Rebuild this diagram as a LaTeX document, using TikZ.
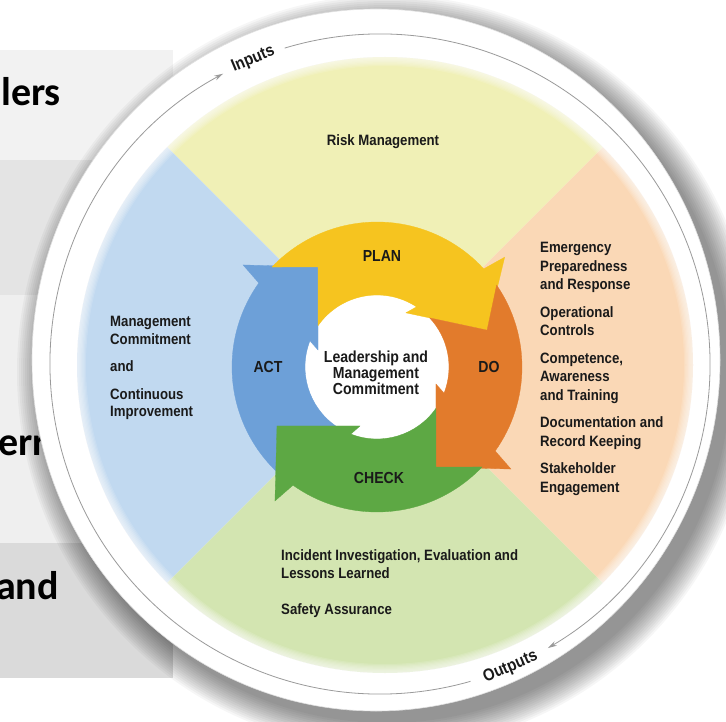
\documentclass[tikz,border=0pt]{standalone}
\usepackage{fontspec}
\setmainfont{Liberation Sans}
\newfontfamily\cf[FakeStretch=0.88]{Liberation Sans}
\newfontfamily\calib{Carlito}
\usetikzlibrary{arrows.meta}
\definecolor{boxA}{HTML}{F2F2F2}
\definecolor{boxB}{HTML}{E4E4E4}
\definecolor{boxC}{HTML}{EFEFEF}
\definecolor{boxD}{HTML}{DADADA}
\definecolor{qyellow}{HTML}{F0F0B6}
\definecolor{qpeach}{HTML}{FAD8B6}
\definecolor{qgreen}{HTML}{D3E5B1}
\definecolor{qblue}{HTML}{C1D9F0}
\definecolor{aplan}{HTML}{F6C41F}
\definecolor{ado}{HTML}{E27B2C}
\definecolor{acheck}{HTML}{5DA844}
\definecolor{aact}{HTML}{6DA0D8}
\definecolor{ringline}{HTML}{9A9A9A}
\definecolor{ink}{HTML}{1A1A1A}
\begin{document}
\begin{tikzpicture}[x=1pt,y=-1pt,
  bigtext/.style={font=\calib\bfseries\fontsize{40}{48}\selectfont, text=black, inner sep=0pt},
  qtext/.style={font=\cf\bfseries\fontsize{15}{18.5}\selectfont, text=ink, inner sep=0pt, align=left, anchor=north west},
  albl/.style={font=\cf\bfseries\fontsize{16}{19}\selectfont, text=ink, inner sep=0pt},
  ctext/.style={font=\cf\bfseries\fontsize{16}{16}\selectfont, text=ink, inner sep=0pt, align=center, anchor=north},
  iolbl/.style={font=\cf\bfseries\fontsize{17}{19}\selectfont, text=ink, inner sep=0pt},
  ioline/.style={ringline, line width=0.8pt, -{Stealth[length=9pt,width=5pt]}}]
\useasboundingbox (0,0) rectangle (726,722);
\fill[white] (0,0) rectangle (726,722);
% background slide boxes
\fill[boxA] (0,50) rectangle (173,160);
\fill[boxB] (0,160) rectangle (173,295);
\fill[boxC] (0,295) rectangle (173,543);
\fill[boxD] (0,543) rectangle (173,678);
\node[bigtext, anchor=base west] (t1) at (1,106) {lers};
\node[bigtext, anchor=base west] (t2) at (-2,455) {err};
\node[bigtext, anchor=base west] (t3) at (-4,599) {and};
% shadow of the disc
\foreach \k in {0,...,13}
  \fill[black, opacity=0.035] (387,372) ellipse [x radius={344+2*\k}, y radius={351+2*\k}];
% white disc
\fill[white] (376,360) ellipse [x radius=344, y radius=351];
\draw[black!12, line width=0.6pt] (376,360) ellipse [x radius=344, y radius=351];
% coloured quadrants
\begin{scope}[shift={(385,365)}, y=1pt]
  \fill[qyellow] (0,0) -- (45:308) arc[start angle=45, end angle=135, radius=308] -- cycle;
  \fill[qblue] (0,0) -- (135:308) arc[start angle=135, end angle=225, radius=308] -- cycle;
  \fill[qgreen] (0,0) -- (225:308) arc[start angle=225, end angle=315, radius=308] -- cycle;
  \fill[qpeach] (0,0) -- (-45:308) arc[start angle=-45, end angle=45, radius=308] -- cycle;
  \foreach \k in {1,...,8}
    \draw[white, opacity=0.13, line width={\k*2.5pt}] (0,0) circle [radius=309];
\end{scope}
% inputs / outputs ring
\begin{scope}[shift={(380,364)}, y=1pt]
  \draw[ioline] (106.8:330) arc[start angle=106.8, end angle=-59.4, radius=330];
  \draw[ioline] (-74.1:330) arc[start angle=-74.1, end angle=-241.6, radius=330];
  \node[iolbl, rotate=22.6] (inputs) at (112.6:330) {Inputs};
  \node[iolbl, rotate=23.3] (outputs) at (-66.7:330) {Outputs};
\end{scope}
% PDCA arrows: rotation / head offset / tail offset / colour
\begin{scope}[shift={(377,367)}, y=1pt]
  \fill[white] (0,0) circle [radius=72];
  \foreach \rr/\hh/\tt/\cc in {0/0/0/aact,-90/-12/0/aplan,-180/0/-12/ado,90/0/0/acheck}
    \filldraw[fill=\cc, draw=\cc, line width=0.3pt]
      ({226.4+\rr+\tt}:145) arc[start angle={226.4+\rr+\tt}, end angle={144.6+\rr+\hh}, radius=145]
      -- ({142.7+\rr+\hh}:168.4) -- ({120.5+\rr+\hh}:116.1) -- ({163.9+\rr+\hh}:61.4)
      -- ({158.7+\rr+\hh}:72) arc[start angle={158.7+\rr+\hh}, end angle={235+\rr+\tt}, radius=72]
      -- ({210.5+\rr+\tt}:116.1) -- cycle;
\end{scope}
\node[albl, anchor=base] (plan) at (382,262) {PLAN};
\node[albl, anchor=base] (do) at (489,372) {DO};
\node[albl, anchor=base] (check) at (379,483) {CHECK};
\node[albl, anchor=base] (act) at (268,372) {ACT};
\node[ctext] (lead) at (376,350.5) {Leadership and\\Management\\Commitment};
% quadrant texts
\node[albl, font=\cf\bfseries\fontsize{15}{18}\selectfont, anchor=base] (risk) at (383,146) {Risk Management};
\node[qtext] (dotext) at (540,242.3) {Emergency\\Preparedness\\and Response\\[9pt]Operational\\Controls\\[9pt]Competence,\\Awareness\\and Training\\[9pt]Documentation and\\Record Keeping\\[9pt]Stakeholder\\Engagement};
\node[qtext, font=\cf\bfseries\fontsize{15}{17.5}\selectfont] (acttext) at (110,316.3) {Management\\Commitment\\[10pt]and\\[10pt]Continuous\\Improvement};
\node[qtext] (checktext) at (281,549) {Incident Investigation, Evaluation and\\Lessons Learned\\[17pt]Safety Assurance};
\end{tikzpicture}
\end{document}
